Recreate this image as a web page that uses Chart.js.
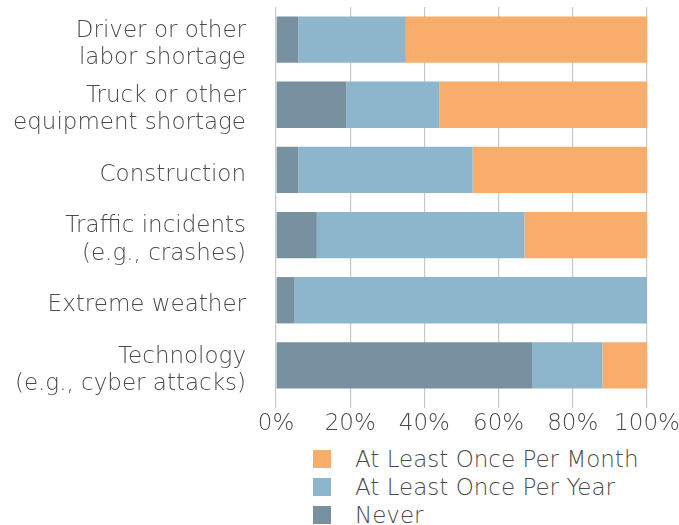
<!DOCTYPE html>
<html>
<head>
<meta charset="utf-8">
<script src="https://cdn.jsdelivr.net/npm/chart.js@4.4.1/dist/chart.umd.min.js"></script>
<style>
  html, body { margin: 0; padding: 0; background: #fff; }
  #wrap { position: relative; width: 679px; height: 525px; }
  #box { position: absolute; left: 0; top: 0; width: 679px; height: 440px; }
  #legend { position: absolute; left: 313px; top: 445px; font-family: "DejaVu Sans", sans-serif; font-weight: 200; font-size: 23px; color: #4a4a4a; }
  #legend div { height: 28px; line-height: 28px; display: flex; align-items: center; }
  #legend span.sw { display: inline-block; width: 18px; height: 18px; margin-right: 24px; }
</style>
</head>
<body>
<div id="wrap">
  <div id="box"><canvas id="chart"></canvas></div>
  <div id="legend"></div>
</div>
<script>
// categories (multi-line labels)
const categories = [
  ["Driver or other", "labor shortage"],
  ["Truck or other", "equipment shortage"],
  "Construction",
  ["Traffic incidents", "(e.g., crashes)"],
  "Extreme weather",
  ["Technology", "(e.g., cyber attacks)"]
];

// percent of respondents
const never = [6, 19, 6, 11, 5, 69];
const perYear = [29, 25, 47, 56, 95, 19];
const perMonth = [65, 56, 47, 33, 0, 12];

const xTicks = [0, 20, 40, 60, 80, 100];

const colors = {
  never: "#7791a1",
  year: "#8db5cb",
  month: "#f8ad6c"
};

const font = { family: "'DejaVu Sans', sans-serif", size: 23, weight: 200 };
const textColor = "#4a4a4a";

const ctx = document.getElementById("chart").getContext("2d");
const chart = new Chart(ctx, {
  type: "bar",
  data: {
    labels: categories,
    datasets: [
      { label: "Never", data: never, backgroundColor: colors.never },
      { label: "At Least Once Per Year", data: perYear, backgroundColor: colors.year },
      { label: "At Least Once Per Month", data: perMonth, backgroundColor: colors.month }
    ]
  },
  options: {
    indexAxis: "y",
    responsive: true,
    maintainAspectRatio: false,
    animation: false,
    layout: { padding: { top: 7, right: 32, bottom: 0, left: 0 } },
    datasets: { bar: { barPercentage: 0.71, categoryPercentage: 1 } },
    plugins: { legend: { display: false }, tooltip: { enabled: false } },
    scales: {
      x: {
        stacked: true,
        min: 0,
        max: 100,
        z: 1,
        afterBuildTicks: (scale) => {
          scale.ticks = xTicks.map((v) => ({ value: v }));
        },
        afterFit: (scale) => {
          scale.height = 42;
          scale.paddingLeft = 0;
          scale.paddingRight = 0;
        },
        ticks: {
          font: font,
          color: textColor,
          padding: 2,
          callback: (v) => v + "%"
        },
        grid: { color: "rgba(100,100,100,0.35)", lineWidth: 1.2, tickLength: 10 },
        border: { display: false }
      },
      y: {
        stacked: true,
        afterFit: (scale) => {
          scale.width = 276;
          scale.paddingTop = 0;
          scale.paddingBottom = 0;
        },
        ticks: {
          font: Object.assign({ lineHeight: 1.18 }, font),
          color: textColor,
          padding: 22,
          labelOffset: 5
        },
        grid: { display: false },
        border: { display: false }
      }
    }
  }
});

// vertical legend, reverse order like the original
const legendEl = document.getElementById("legend");
chart.data.datasets.slice().reverse().forEach((ds) => {
  const row = document.createElement("div");
  const sw = document.createElement("span");
  sw.className = "sw";
  sw.style.background = ds.backgroundColor;
  row.appendChild(sw);
  row.appendChild(document.createTextNode(ds.label));
  legendEl.appendChild(row);
});
</script>
</body>
</html>
